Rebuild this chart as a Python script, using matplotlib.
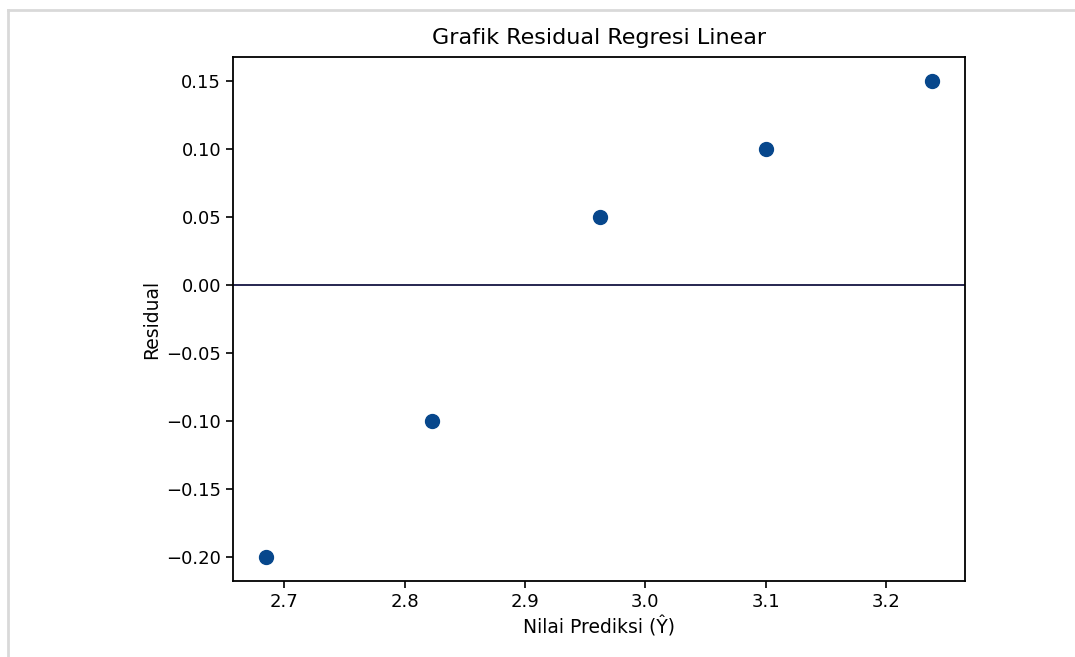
import matplotlib
matplotlib.use("Agg")
import matplotlib.pyplot as plt
from matplotlib.lines import Line2D

# Data
y_pred = [2.685, 2.823, 2.962, 3.100, 3.238]
residuals = [-0.20, -0.10, 0.05, 0.10, 0.15]

title = "Grafik Residual Regresi Linear"
xlabel = "Nilai Prediksi (Ŷ)"
ylabel = "Residual"

fig = plt.figure(figsize=(10.75, 6.57), dpi=100)
ax = fig.add_axes([233 / 1075, 1 - 581 / 657, (965 - 233) / 1075, (581 - 57) / 657])

ax.scatter(y_pred, residuals, s=100, color="#07478c", zorder=3)
ax.axhline(0, color="#262650", linewidth=1.4)

ax.set_title(title, fontsize=16, pad=9)
ax.set_xlabel(xlabel, fontsize=13.5)
ax.set_ylabel(ylabel, fontsize=13.5)
ax.tick_params(labelsize=13, length=5, width=1.2)
for sp in ax.spines.values():
    sp.set_linewidth(1.3)

# light gray screenshot border (top and left)
fig.add_artist(Line2D([8 / 1075, 1], [1 - 10 / 657, 1 - 10 / 657], transform=fig.transFigure,
                      color="#d9d9d9", linewidth=2))
fig.add_artist(Line2D([8 / 1075, 8 / 1075], [0, 1 - 10 / 657], transform=fig.transFigure,
                      color="#d9d9d9", linewidth=2))

fig.savefig("out.png", dpi=100)
